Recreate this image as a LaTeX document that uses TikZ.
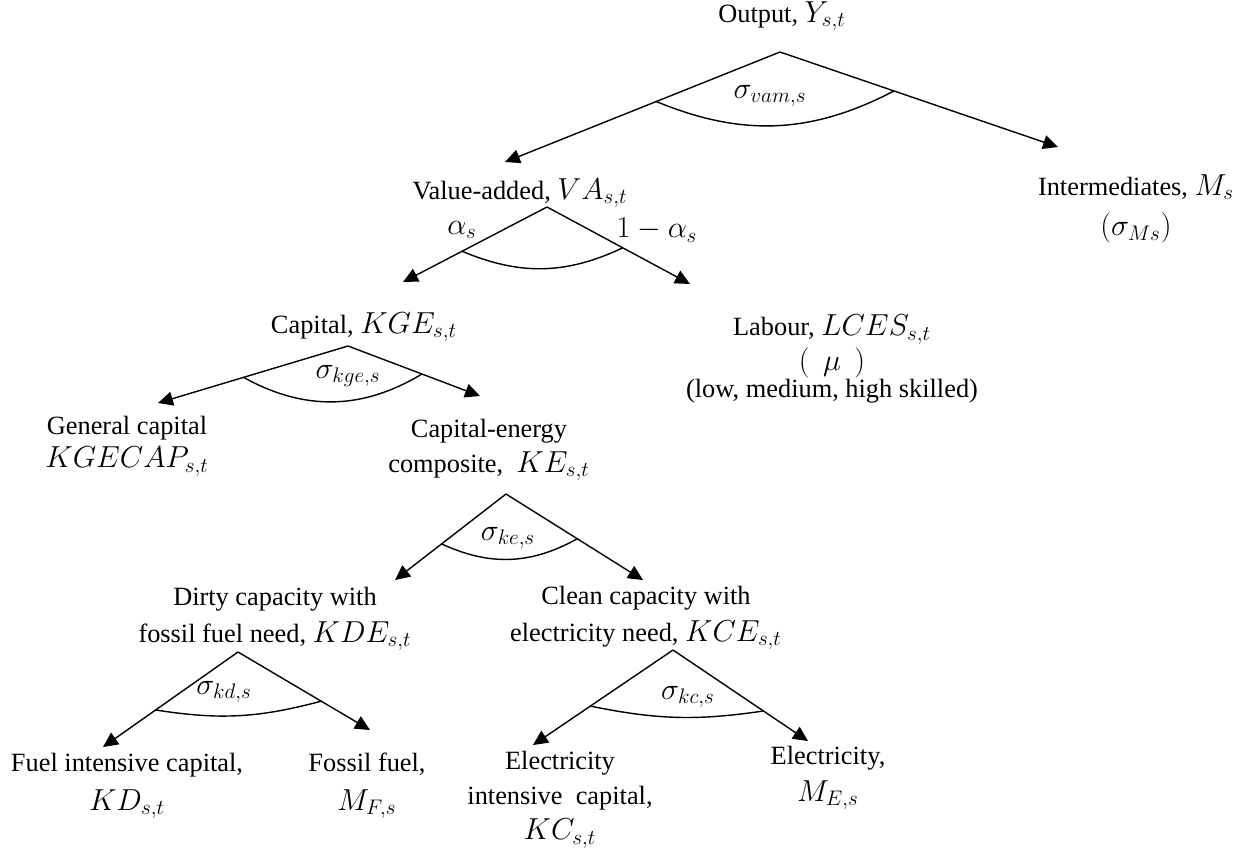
\documentclass[tikz,border=0pt]{standalone}
\usepackage{fontspec}
\setmainfont{Liberation Serif}
\usetikzlibrary{arrows.meta,calc}
\DeclareMathSizes{15}{16}{12}{9}

\begin{document}
\begin{tikzpicture}[x=0.02cm, y=-0.02cm,
    lbl/.style={align=center, inner sep=0pt, font=\fontsize{15}{20}\selectfont},
    sig/.style={inner sep=0pt, font=\fontsize{15}{18}\selectfont},
    arr/.style={-{Triangle[length=8.5pt,width=8pt]}, line width=0.8pt},
    arcline/.style={line width=0.8pt}]

  \useasboundingbox (0,0) rectangle (1246,850);

  % Output
  \node[lbl] (Y) at (782,16) {Output, $Y_{s,t}$};
  \coordinate (Y-top) at (780,52);
  \coordinate (VA-in) at (505,162);
  \coordinate (M-in) at (1058,147);
  \draw[arr] (Y-top) -- (VA-in);
  \draw[arr] (Y-top) -- (M-in);
  \draw[arcline] ($(Y-top)!0.45!(VA-in)$) to[bend right=25] ($(Y-top)!0.41!(M-in)$);
  \node[sig] (S-vam) at (770,96) {$\sigma_{vam,s}$};

  % Intermediates
  \node[lbl] (M) at (1136,209) {Intermediates, $M_s$\\[3pt]$(\sigma_{Ms})$};

  % Value-added
  \node[lbl] (VA) at (520,193) {Value-added, $VA_{s,t}$};
  \coordinate (VA-top) at (547,207);
  \coordinate (KGE-in) at (403,282);
  \coordinate (L-in) at (690,284);
  \draw[arr] (VA-top) -- (KGE-in);
  \draw[arr] (VA-top) -- (L-in);
  \draw[arcline] ($(VA-top)!0.59!(KGE-in)$) to[bend right=24] ($(VA-top)!0.53!(L-in)$);
  \node[sig] (A-l) at (462,230) {$\alpha_s$};
  \node[sig] (A-r) at (657,230) {$1-\alpha_s$};

  % Labour
  \node[lbl] (L) at (832,359) {Labour, $LCES_{s,t}$\\$(\;\,\mu\;\,)$\\[-5pt](low, medium, high skilled)};

  % Capital
  \node[lbl] (KGE) at (364,327) {Capital, $KGE_{s,t}$};
  \coordinate (KGE-top) at (348,346);
  \coordinate (GC-in) at (158,403);
  \coordinate (KE-in) at (480,396);
  \draw[arr] (KGE-top) -- (GC-in);
  \draw[arr] (KGE-top) -- (KE-in);
  \draw[arcline] ($(KGE-top)!0.55!(GC-in)$) to[bend right=30] ($(KGE-top)!0.56!(KE-in)$);
  \node[sig] (S-kge) at (348,376) {$\sigma_{kge,s}$};

  % General capital
  \node[lbl] (GC) at (127,446) {General capital\\[-1pt]$KGECAP_{s,t}$};

  % Capital-energy composite
  \node[lbl] (KE) at (489,450) {Capital-energy\\composite,~ $KE_{s,t}$};
  \coordinate (KE-top) at (506,494);
  \coordinate (KDE-in) at (395,580);
  \coordinate (KCE-in) at (643,580);
  \draw[arr] (KE-top) -- (KDE-in);
  \draw[arr] (KE-top) -- (KCE-in);
  \draw[arcline] ($(KE-top)!0.58!(KDE-in)$) to[bend right=27] ($(KE-top)!0.52!(KCE-in)$);
  \node[sig] (S-ke) at (508,538) {$\sigma_{ke,s}$};

  % Dirty capacity
  \node[lbl] (KDE) at (275,619) {Dirty capacity with\\[1pt]fossil fuel need, $KDE_{s,t}$};
  \coordinate (KDE-top) at (238,652);
  \coordinate (KD-in) at (103,747);
  \coordinate (MF-in) at (370,730);
  \draw[arr] (KDE-top) -- (KD-in);
  \draw[arr] (KDE-top) -- (MF-in);
  \draw[arcline] ($(KDE-top)!0.61!(KD-in)$) to[bend right=12] ($(KDE-top)!0.63!(MF-in)$);
  \node[sig] (S-kd) at (224,692) {$\sigma_{kd,s}$};

  % Clean capacity
  \node[lbl] (KCE) at (646,618) {Clean capacity with\\[1pt]electricity need, $KCE_{s,t}$};
  \coordinate (KCE-top) at (673,650);
  \coordinate (KC-in) at (533,745);
  \coordinate (ME-in) at (808,741);
  \draw[arr] (KCE-top) -- (KC-in);
  \draw[arr] (KCE-top) -- (ME-in);
  \draw[arcline] ($(KCE-top)!0.59!(KC-in)$) to[bend right=10] ($(KCE-top)!0.67!(ME-in)$);
  \node[sig] (S-kc) at (688,697) {$\sigma_{kc,s}$};

  % Bottom level
  \node[lbl] (KD) at (127,786) {Fuel intensive capital,\\[2pt]$KD_{s,t}$};
  \node[lbl] (MF) at (367,786) {Fossil fuel,\\[2pt]$M_{F,s}$};
  \node[lbl] (KC) at (560,800) {Electricity\\intensive~ capital,\\$KC_{s,t}$};
  \node[lbl] (ME) at (828,778) {Electricity,\\[1pt]$M_{E,s}$};

\end{tikzpicture}
\end{document}
